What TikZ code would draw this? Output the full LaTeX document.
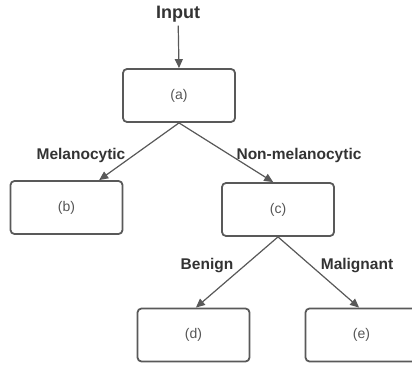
\documentclass[tikz,border=0pt]{standalone}
\usepackage{fontspec}
\setmainfont{Liberation Sans}
\definecolor{linegray}{HTML}{595959}
\definecolor{textgray}{HTML}{555555}
\definecolor{labelgray}{HTML}{333333}
\usetikzlibrary{arrows.meta}
\begin{document}
\begin{tikzpicture}[x=1pt, y=-1pt,
	stage/.style={rectangle, rounded corners=4pt, draw=linegray, line width=1.8pt, minimum width=112pt, minimum height=53pt, text=textgray, font=\fontsize{14}{16}\selectfont},
	branch/.style={text=labelgray, font=\fontsize{15.5}{18}\selectfont\bfseries},
	flow/.style={-{Triangle[length=9pt, width=8pt]}, draw=linegray, fill=linegray, line width=1.2pt}]

	\useasboundingbox (0,0) rectangle (412,366);

	\node 	(in)	at	(178,14) 	[text=labelgray, font=\fontsize{18}{20}\selectfont\bfseries]{Input};

	\node 	(a)	at	(179,95.5) 	[stage]{(a)};
	\node 	(b)	at	(66.5,207.5) 	[stage]{(b)};
	\node 	(c)	at	(278,209.5) 	[stage]{(c)};
	\node 	(d)	at	(193.5,335) 	[stage]{(d)};
	\node 	(e)	at	(361.5,335) 	[stage]{(e)};

	\node 	(lm)	at	(81,155) 	[branch]{Melanocytic};
	\node 	(ln)	at	(299,155) 	[branch]{Non-melanocytic};
	\node 	(lb)	at	(207,266) 	[branch]{Benign};
	\node 	(lg)	at	(357,266) 	[branch]{Malignant};

	\draw[flow]	(in)	to	(a.north);
	\draw[flow]	(a.south)	to	(b.40);
	\draw[flow]	(a.south)	to	(c.100);
	\draw[flow]	(c.south)	to	(d.85);
	\draw[flow]	(c.south)	to	(e.95);

\end{tikzpicture}
\end{document}
